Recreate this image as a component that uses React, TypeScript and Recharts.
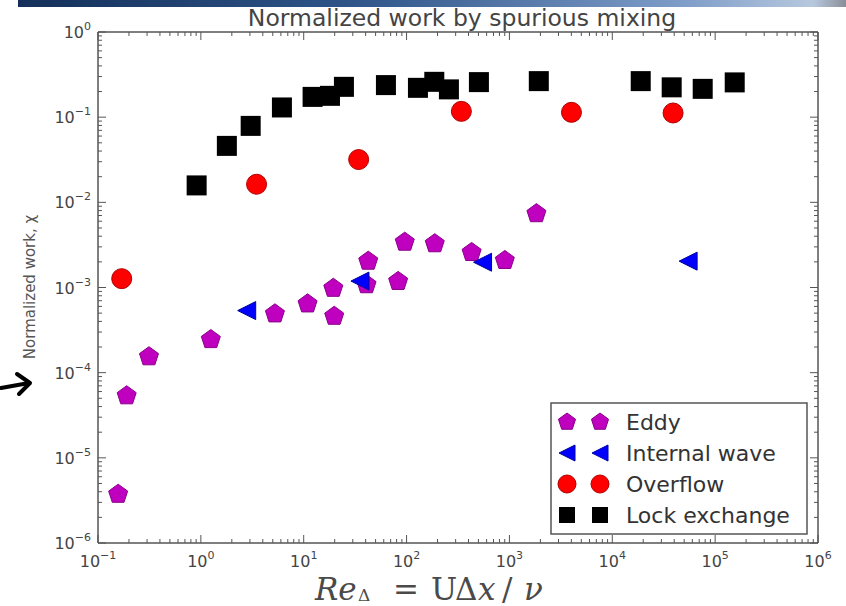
import React from 'react';
import { ScatterChart, Scatter, XAxis, YAxis } from 'recharts';

// axis decades (log scale)
const X_MAJOR = [0.1, 1, 10, 100, 1000, 10000, 100000, 1000000];
const Y_MAJOR = [1e-6, 1e-5, 1e-4, 1e-3, 1e-2, 1e-1, 1];

// Eddy
const eddyRe = [0.157, 0.19, 0.313, 1.25, 5.25, 10.9, 19.8, 19.4, 40.8, 42.4, 82.8, 96, 188, 429, 902, 1830];
const eddyChi = [3.74e-6, 5.36e-5, 1.54e-4, 2.45e-4, 4.91e-4, 6.43e-4, 4.6e-4, 9.8e-4, 1.08e-3, 2.04e-3, 1.18e-3, 3.41e-3, 3.27e-3, 2.58e-3, 2.08e-3, 7.37e-3];

// Internal wave
const waveRe = [2.79, 35.2, 548, 54600];
const waveChi = [5.36e-4, 1.19e-3, 1.98e-3, 2.04e-3];

// Overflow
const overflowRe = [0.17, 3.48, 34.2, 341, 4010, 39000];
const overflowChi = [1.27e-3, 0.0163, 0.0318, 0.117, 0.114, 0.112];

// Lock exchange
const lockRe = [0.91, 1.79, 3.05, 6.14, 12.2, 18.0, 24.6, 63, 129, 186, 258, 505, 1930, 18900, 37800, 75700, 155000];
const lockChi = [0.0158, 0.046, 0.079, 0.13, 0.173, 0.178, 0.227, 0.238, 0.221, 0.26, 0.212, 0.258, 0.265, 0.265, 0.224, 0.215, 0.256];

const AXIS = '#555';
const TEXT = '#444';
const FONT = 'DejaVu Sans, sans-serif';

const toPoints = (xs: number[], ys: number[]) => xs.map((x, i) => ({ x, y: ys[i] }));

// majors plus 2..9 minors in every decade
const withMinors = (majors: number[]) => {
  const out: number[] = [];
  majors.forEach((d, i) => {
    out.push(d);
    if (i < majors.length - 1) for (let k = 2; k < 10; k++) out.push(d * k);
  });
  return out;
};
const X_TICKS = withMinors(X_MAJOR);
const Y_TICKS = withMinors(Y_MAJOR);

const isMajor = (v: number) => {
  const l = Math.log10(v);
  return Math.abs(l - Math.round(l)) < 1e-6;
};
const expText = (v: number) => {
  const e = Math.round(Math.log10(v));
  return e < 0 ? '\u2212' + -e : String(e);
};

const Pow = ({ v }: { v: number }) => (
  <>
    <tspan>10</tspan>
    <tspan dy={-8} fontSize={11}>{expText(v)}</tspan>
  </>
);

const BottomTick = (p: any) => {
  const major = isMajor(p.payload.value);
  return (
    <g>
      <line x1={p.x} x2={p.x} y1={p.y} y2={p.y - (major ? 8 : 4)} stroke={AXIS} />
      {major && (
        <text x={p.x} y={p.y + 24} textAnchor="middle" fontSize={16} fill={TEXT} fontFamily={FONT}>
          <Pow v={p.payload.value} />
        </text>
      )}
    </g>
  );
};
const TopTick = (p: any) => {
  const major = isMajor(p.payload.value);
  return <line x1={p.x} x2={p.x} y1={p.y} y2={p.y + (major ? 8 : 4)} stroke={AXIS} />;
};
const LeftTick = (p: any) => {
  const major = isMajor(p.payload.value);
  return (
    <g>
      <line x1={p.x} x2={p.x + (major ? 8 : 4)} y1={p.y} y2={p.y} stroke={AXIS} />
      {major && (
        <text x={p.x - 7} y={p.y + 6} textAnchor="end" fontSize={16} fill={TEXT} fontFamily={FONT}>
          <Pow v={p.payload.value} />
        </text>
      )}
    </g>
  );
};
const RightTick = (p: any) => {
  const major = isMajor(p.payload.value);
  return <line x1={p.x} x2={p.x - (major ? 8 : 4)} y1={p.y} y2={p.y} stroke={AXIS} />;
};

// markers
const pentagonPts = (cx: number, cy: number, r: number) =>
  Array.from({ length: 5 }, (_, k) => {
    const a = ((-90 + 72 * k) * Math.PI) / 180;
    return `${cx + r * Math.cos(a)},${cy + r * Math.sin(a)}`;
  }).join(' ');

const Pentagon = ({ cx, cy, r = 10 }: any) => (
  <polygon points={pentagonPts(cx, cy, r)} fill="#bf00bf" stroke="#8a008a" strokeWidth={1} />
);
const TriLeft = ({ cx, cy, s = 9 }: any) => (
  <polygon points={`${cx - s},${cy} ${cx + s},${cy - s} ${cx + s},${cy + s}`} fill="#0000ff" stroke="#0000a0" strokeWidth={1} />
);
const Dot = ({ cx, cy, r = 10 }: any) => <circle cx={cx} cy={cy} r={r} fill="#ff0000" stroke="#b00000" strokeWidth={1} />;
const Square = ({ cx, cy, s = 10 }: any) => <rect x={cx - s} y={cy - s} width={2 * s} height={2 * s} fill="#000" />;

const legendItems = [
  { name: 'Eddy', Mark: Pentagon, size: 9 },
  { name: 'Internal wave', Mark: TriLeft, size: 8 },
  { name: 'Overflow', Mark: Dot, size: 9 },
  { name: 'Lock exchange', Mark: Square, size: 8 },
];

export default function App() {
  const axisCommon = {
    type: 'number' as const,
    scale: 'log' as const,
    allowDataOverflow: true,
    interval: 0 as const,
    tickSize: 0,
    tickMargin: 0,
    axisLine: { stroke: AXIS, strokeWidth: 1.5 },
    tickLine: false,
  };

  return (
    <div style={{ position: 'absolute', left: 0, top: 0, width: 846, height: 606, background: '#fff', overflow: 'hidden' }}>
      <div
        style={{
          position: 'absolute',
          left: 18,
          top: 0,
          width: 828,
          height: 7,
          background: 'linear-gradient(to right, #14305a, #2e5488 40%, #7d9cc8 80%, #b7c8de 96%, #8a8f98)',
        }}
      />
      <ScatterChart width={846} height={606} margin={{ top: 31, right: 27, bottom: 33, left: 8 }}>
        <XAxis {...axisCommon} xAxisId="b" dataKey="x" domain={[0.1, 1e6]} ticks={X_TICKS} height={30} tick={<BottomTick />} />
        <XAxis {...axisCommon} xAxisId="t" orientation="top" dataKey="x" domain={[0.1, 1e6]} ticks={X_TICKS} height={1} tick={<TopTick />} />
        <YAxis {...axisCommon} yAxisId="l" dataKey="y" domain={[1e-6, 1]} ticks={Y_TICKS} width={90} tick={<LeftTick />} />
        <YAxis {...axisCommon} yAxisId="r" orientation="right" dataKey="y" domain={[1e-6, 1]} ticks={Y_TICKS} width={1} tick={<RightTick />} />
        <Scatter xAxisId="b" yAxisId="l" name="Eddy" data={toPoints(eddyRe, eddyChi)} isAnimationActive={false} shape={(p: any) => <Pentagon cx={p.cx} cy={p.cy} />} />
        <Scatter xAxisId="b" yAxisId="l" name="Internal wave" data={toPoints(waveRe, waveChi)} isAnimationActive={false} shape={(p: any) => <TriLeft cx={p.cx} cy={p.cy} />} />
        <Scatter xAxisId="b" yAxisId="l" name="Overflow" data={toPoints(overflowRe, overflowChi)} isAnimationActive={false} shape={(p: any) => <Dot cx={p.cx} cy={p.cy} />} />
        <Scatter xAxisId="b" yAxisId="l" name="Lock exchange" data={toPoints(lockRe, lockChi)} isAnimationActive={false} shape={(p: any) => <Square cx={p.cx} cy={p.cy} />} />
      </ScatterChart>

      <svg width={846} height={606} style={{ position: 'absolute', left: 0, top: 0, pointerEvents: 'none' }}>
        <text x={462} y={26} textAnchor="middle" fontSize={23.5} fill={TEXT} fontFamily={FONT}>
          Normalized work by spurious mixing
        </text>
        <text x={0} y={0} transform="translate(35,287) rotate(-90)" textAnchor="middle" fontSize={15} fill="#555" fontFamily={FONT}>
          Normalized work, χ
        </text>
        {/* pointer arrow */}
        <g stroke="#000" strokeWidth={4} fill="none" strokeLinecap="round" strokeLinejoin="round">
          <line x1={1} y1={388} x2={29} y2={383} />
          <polyline points="17,374 30,383 19,394" />
        </g>
        {/* x axis formula */}
        <g fill="#4a4a4a" fontFamily="DejaVu Serif, serif" fontSize={31}>
          <text x={315} y={600} fontStyle="italic">Re</text>
          <text x={358} y={601} fontSize={17}>Δ</text>
          <text x={393} y={600}>=</text>
          <text x={431} y={600}>U</text>
          <text x={455} y={600}>Δ</text>
          <text x={478} y={600} fontStyle="italic">x</text>
          <text x={502} y={600}>/</text>
          <text x={524} y={600} fontStyle="italic">ν</text>
        </g>
        {/* legend */}
        <rect x={551} y={403} width={256} height={131} fill="#fff" stroke={AXIS} strokeWidth={1.5} />
        {legendItems.map((it, i) => {
          const cy = 422 + i * 31;
          const M = it.Mark as any;
          const sz = it.Mark === Pentagon || it.Mark === Dot ? { r: it.size } : { s: it.size };
          return (
            <g key={it.name}>
              <M cx={567} cy={cy} {...sz} />
              <M cx={600} cy={cy} {...sz} />
              <text x={626} y={cy + 8} fontSize={22} fill="#333" fontFamily={FONT}>
                {it.name}
              </text>
            </g>
          );
        })}
      </svg>
    </div>
  );
}
